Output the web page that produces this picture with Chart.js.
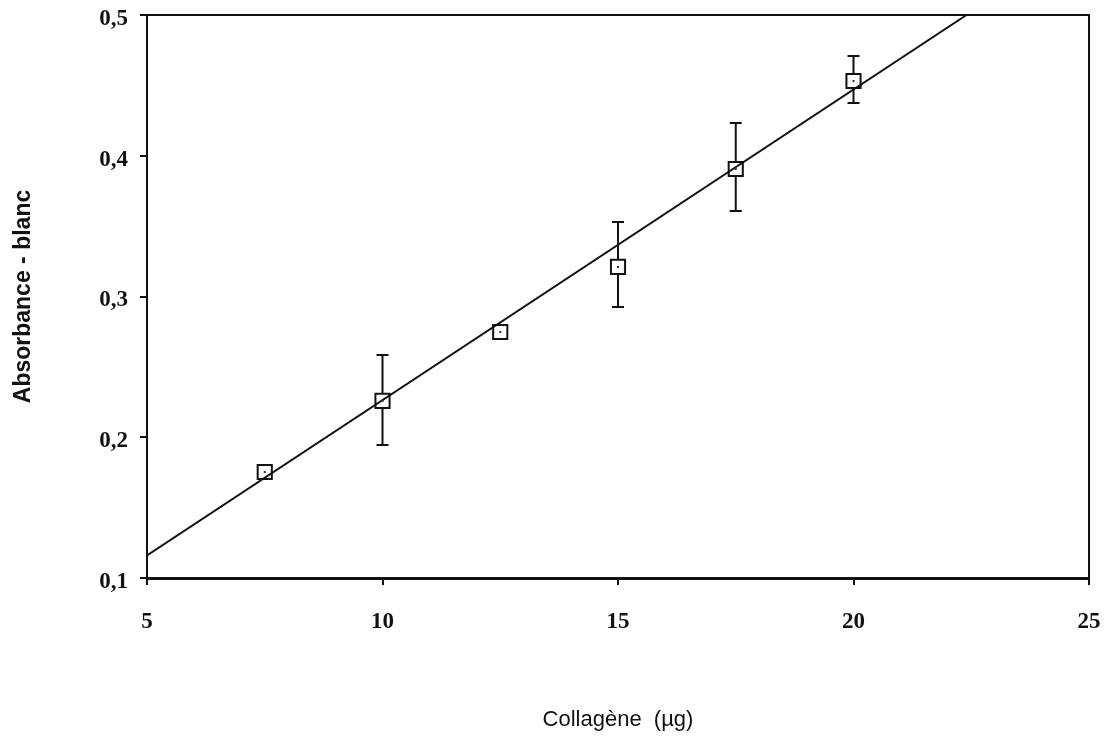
<!DOCTYPE html>
<html>
<head>
<meta charset="utf-8">
<script src="https://cdn.jsdelivr.net/npm/chart.js@4"></script>
<style>
html,body{margin:0;padding:0;background:#fff;}
canvas{display:block;}
</style>
</head>
<body>
<canvas id="c" width="1108" height="736"></canvas>
<script>
// Data
const collagen = [7.5, 10, 12.5, 15, 17.5, 20];
const absorbance = [0.1753, 0.2258, 0.2748, 0.321, 0.3906, 0.4531];
const errLow = [0.173, 0.1945, 0.2748, 0.2925, 0.3607, 0.4375];
const errHigh = [0.1785, 0.2584, 0.2748, 0.353, 0.4233, 0.4709];
const fitX = [5, 22.4];
const fitY = [0.116, 0.5];
const xTicks = [5, 10, 15, 20, 25];
const yTicks = [0.1, 0.2, 0.3, 0.4, 0.5];

const pts = collagen.map((x, i) => ({x: x, y: absorbance[i]}));
const fit = fitX.map((x, i) => ({x: x, y: fitY[i]}));

const errorBars = {
  id: 'errorBars',
  beforeDatasetsDraw(chart) {
    const ctx = chart.ctx, xs = chart.scales.x, ys = chart.scales.y;
    ctx.save();
    ctx.strokeStyle = '#111';
    ctx.lineWidth = 2;
    collagen.forEach((x, i) => {
      if (errHigh[i] - errLow[i] < 0.001) return;
      const px = xs.getPixelForValue(x);
      const y1 = ys.getPixelForValue(errLow[i]);
      const y2 = ys.getPixelForValue(errHigh[i]);
      ctx.beginPath();
      ctx.moveTo(px, y1); ctx.lineTo(px, y2);
      ctx.moveTo(px - 6, y1); ctx.lineTo(px + 6, y1);
      ctx.moveTo(px - 6, y2); ctx.lineTo(px + 6, y2);
      ctx.stroke();
    });
    ctx.restore();
  },
  afterDatasetsDraw(chart) {
    const ctx = chart.ctx, xs = chart.scales.x, ys = chart.scales.y;
    ctx.save();
    ctx.fillStyle = '#333';
    collagen.forEach((x, i) => {
      const px = xs.getPixelForValue(x);
      const py = ys.getPixelForValue(absorbance[i]);
      ctx.fillRect(px - 1, py - 1, 2, 2);
    });
    const a = chart.chartArea;
    ctx.strokeStyle = '#111';
    ctx.lineWidth = 2;
    ctx.strokeRect(a.left, a.top, a.right - a.left, a.bottom - a.top);
    ctx.restore();
  }
};

const tickFont = {family: '"Liberation Serif", "Times New Roman", serif', size: 23, weight: 'bold'};

new Chart(document.getElementById('c'), {
  type: 'scatter',
  data: {
    datasets: [
      {
        label: 'fit',
        type: 'line',
        data: fit,
        borderColor: '#111',
        borderWidth: 2,
        pointRadius: 0,
        fill: false,
        order: 0
      },
      {
        label: 'points',
        data: pts,
        pointStyle: 'rect',
        pointRadius: 10,
        pointBackgroundColor: '#fff',
        pointBorderColor: '#111',
        pointBorderWidth: 2,
        order: 1
      }
    ]
  },
  options: {
    responsive: false,
    animation: false,
    devicePixelRatio: 1,
    layout: {padding: {top: 15, right: 19, left: 0, bottom: 0}},
    plugins: {legend: {display: false}, tooltip: {enabled: false}},
    scales: {
      x: {
        type: 'linear',
        min: 5, max: 25,
        afterBuildTicks: (s) => { s.ticks = xTicks.map(v => ({value: v})); },
        afterFit: (s) => { s.height = 158; s.paddingLeft = 0; s.paddingRight = 0; },
        grid: {display: true, drawOnChartArea: false, drawTicks: true, tickLength: 7, color: '#111', lineWidth: 2},
        border: {display: true, color: '#111', width: 3},
        ticks: {color: '#111', font: tickFont, padding: 23, maxRotation: 0,
          callback: (v) => String(v)},
        title: {display: true, text: 'Collagène  (µg)', color: '#111',
          font: {family: '"Liberation Sans", Arial, sans-serif', size: 22},
          padding: {top: 0, bottom: 3}}
      },
      y: {
        type: 'linear',
        min: 0.1, max: 0.5,
        afterBuildTicks: (s) => { s.ticks = yTicks.map(v => ({value: v})); },
        afterFit: (s) => { s.width = 147; s.paddingTop = 0; s.paddingBottom = 0; },
        grid: {display: true, drawOnChartArea: false, drawTicks: true, tickLength: 7, color: '#111', lineWidth: 2},
        border: {display: true, color: '#111', width: 2},
        ticks: {color: '#111', font: tickFont, padding: 12, labelOffset: 4,
          callback: (v) => v.toFixed(1).replace('.', ',')},
        title: {display: true, text: 'Absorbance - blanc', color: '#111',
          font: {family: '"Liberation Sans", Arial, sans-serif', size: 23, weight: 'bold'},
          padding: {top: 10, bottom: 0}}
      }
    }
  },
  plugins: [errorBars]
});
</script>
</body>
</html>
